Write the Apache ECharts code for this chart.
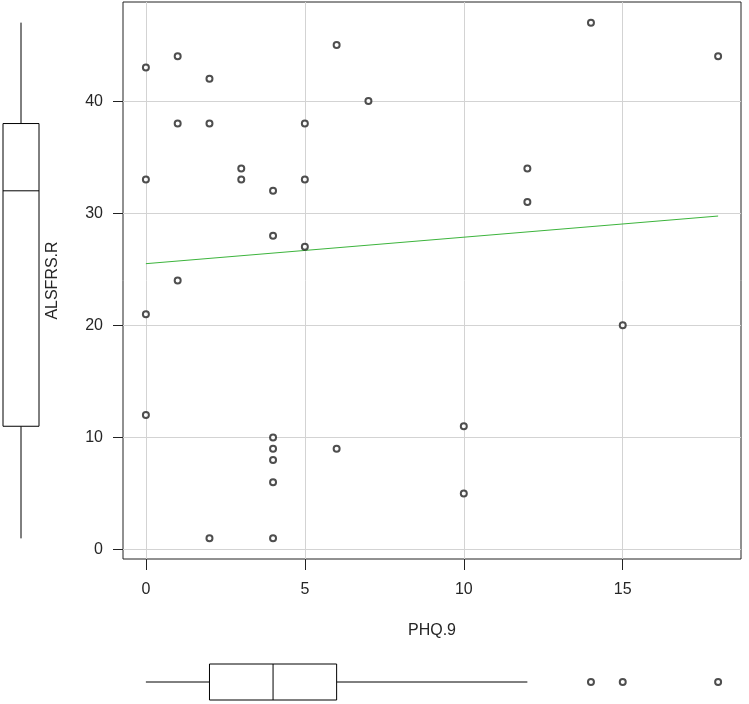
<!DOCTYPE html>
<html><head><meta charset="utf-8">
<script src="https://cdn.jsdelivr.net/npm/echarts@6/dist/echarts.min.js"></script>
<style>html,body{margin:0;padding:0;background:#fff}#c{width:749px;height:704px}</style>
</head><body><div id="c"></div>
<script>
// Data
const phq9   = [0,0,0,0, 1,1,1, 2,2,2, 3,3, 4,4,4,4,4,4,4, 5,5,5, 6,6, 7, 10,10, 12,12, 14, 15, 18];
const alsfrs = [43,33,21,12, 44,38,24, 42,38,1, 34,33, 32,28,10,9,8,6,1, 38,33,27, 45,9, 40, 11,5, 34,31, 47, 20, 44];
const fitLine = [[0, 25.5], [18, 29.75]];
const xTicks = [0, 5, 10, 15];
const yTicks = [0, 10, 20, 30, 40];
// boxplot stats: [low whisker, Q1, median, Q3, high whisker]
const yBox = [1, 11, 32, 38, 47];
const xBox = [0, 2, 4, 6, 12];
const xOutliers = [14, 15, 18];

const FONT = "'Liberation Sans', Arial, sans-serif";
const TXT = '#262626';
const chart = echarts.init(document.getElementById('c'), null, {renderer: 'canvas'});

const lineStyle = {stroke: '#000', fill: 'none', lineWidth: 1};
const boxStyle = {stroke: '#000', fill: '#fff', lineWidth: 1};

function vBox(params, api) {
  const p = api.value(0);
  const lo = api.coord([p, api.value(1)]), q1 = api.coord([p, api.value(2)]),
        md = api.coord([p, api.value(3)]), q3 = api.coord([p, api.value(4)]),
        hi = api.coord([p, api.value(5)]);
  const hw = 18;
  return {type: 'group', children: [
    {type: 'line', shape: {x1: lo[0], y1: lo[1], x2: q1[0], y2: q1[1]}, style: lineStyle},
    {type: 'line', shape: {x1: q3[0], y1: q3[1], x2: hi[0], y2: hi[1]}, style: lineStyle},
    {type: 'rect', shape: {x: q3[0] - hw, y: q3[1], width: 2 * hw, height: q1[1] - q3[1]}, style: boxStyle},
    {type: 'line', shape: {x1: md[0] - hw, y1: md[1], x2: md[0] + hw, y2: md[1]}, style: lineStyle}
  ]};
}
function hBox(params, api) {
  const p = api.value(0);
  const lo = api.coord([api.value(1), p]), q1 = api.coord([api.value(2), p]),
        md = api.coord([api.value(3), p]), q3 = api.coord([api.value(4), p]),
        hi = api.coord([api.value(5), p]);
  const hh = 18;
  return {type: 'group', children: [
    {type: 'line', shape: {x1: lo[0], y1: lo[1], x2: q1[0], y2: q1[1]}, style: lineStyle},
    {type: 'line', shape: {x1: q3[0], y1: q3[1], x2: hi[0], y2: hi[1]}, style: lineStyle},
    {type: 'rect', shape: {x: q1[0], y: q1[1] - hh, width: q3[0] - q1[0], height: 2 * hh}, style: boxStyle},
    {type: 'line', shape: {x1: md[0], y1: md[1] - hh, x2: md[0], y2: md[1] + hh}, style: lineStyle}
  ]};
}

const pointStyle = {color: '#222', borderWidth: 0.85};

const option = {
  animation: false,
  backgroundColor: '#fff',
  grid: [
    {left: 123, top: 2, width: 618, height: 557, show: true, borderColor: '#222', borderWidth: 1, backgroundColor: 'transparent'},
    {left: 3, top: 2, width: 36, height: 557},
    {left: 123, top: 664, width: 618, height: 36}
  ],
  xAxis: [
    {gridIndex: 0, type: 'value', min: -0.72, max: 18.72, position: 'bottom',
     name: 'PHQ.9', nameLocation: 'middle', nameGap: 64,
     nameTextStyle: {fontFamily: FONT, fontSize: 16, color: TXT},
     axisLine: {show: false, onZero: false},
     axisTick: {show: true, inside: false, length: 11, customValues: xTicks, lineStyle: {color: '#222', width: 1}},
     axisLabel: {customValues: xTicks, margin: 23, fontFamily: FONT, fontSize: 16, color: TXT},
     splitLine: {show: true, lineStyle: {color: '#d3d3d3', width: 1}}},
    {gridIndex: 1, type: 'value', min: 0, max: 1, show: false},
    {gridIndex: 2, type: 'value', min: -0.72, max: 18.72, show: false}
  ],
  yAxis: [
    {gridIndex: 0, type: 'value', min: -0.84, max: 48.84, position: 'left',
     name: 'ALSFRS.R', nameLocation: 'middle', nameGap: 62, nameRotate: 90,
     nameTextStyle: {fontFamily: FONT, fontSize: 16, color: TXT},
     axisLine: {show: false, onZero: false},
     axisTick: {show: true, inside: false, length: 10, customValues: yTicks, lineStyle: {color: '#222', width: 1}},
     axisLabel: {customValues: yTicks, margin: 20, fontFamily: FONT, fontSize: 16, color: TXT},
     splitLine: {show: true, lineStyle: {color: '#d3d3d3', width: 1}}},
    {gridIndex: 1, type: 'value', min: -0.84, max: 48.84, show: false},
    {gridIndex: 2, type: 'value', min: 0, max: 1, show: false}
  ],
  series: [
    {type: 'scatter', xAxisIndex: 0, yAxisIndex: 0,
     data: phq9.map((x, i) => [x, alsfrs[i]]),
     symbol: 'emptyCircle', symbolSize: 6,
     itemStyle: pointStyle, z: 3},
    {type: 'line', xAxisIndex: 0, yAxisIndex: 0, data: fitLine,
     symbol: 'none', lineStyle: {color: '#3cb43c', width: 1}, z: 2},
    {type: 'custom', xAxisIndex: 1, yAxisIndex: 1, renderItem: vBox,
     encode: {x: 0, y: [1, 2, 3, 4, 5]}, data: [[0.5].concat(yBox)]},
    {type: 'custom', xAxisIndex: 2, yAxisIndex: 2, renderItem: hBox,
     encode: {y: 0, x: [1, 2, 3, 4, 5]}, data: [[0.5].concat(xBox)]},
    {type: 'scatter', xAxisIndex: 2, yAxisIndex: 2,
     data: xOutliers.map(x => [x, 0.5]),
     symbol: 'emptyCircle', symbolSize: 6,
     itemStyle: pointStyle}
  ]
};
chart.setOption(option);
</script>
</body></html>
